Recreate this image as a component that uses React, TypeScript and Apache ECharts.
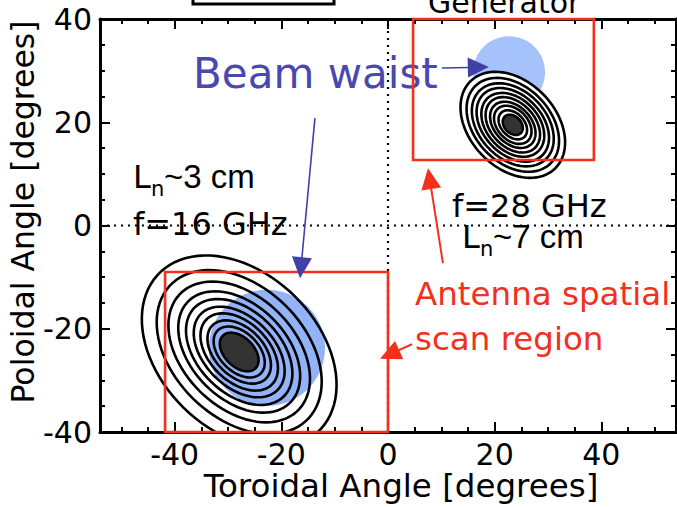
import React, { useEffect, useRef } from "react";
import * as echarts from "echarts";

// ---- axis ticks ----
const xTickLabels = [-40, -20, 0, 20, 40];
const xMinorTicks = [-50, -45, -40, -35, -30, -25, -20, -15, -10, -5, 0, 5, 10, 15, 20, 25, 30, 35, 40, 45, 50];
const xRange = [-54, 54];
const yRange = [-40, 40];

// ---- f=16 GHz contour set (degrees) ----
const lowerCenter = [-27.9, -24.5];
const lowerMajor = [4.4, 5.8, 7.2, 8.8, 10.3, 12.0, 13.7, 15.8, 18.3, 21.4];
const lowerMinor = [2.8, 3.7, 4.6, 5.6, 6.6, 7.8, 9.0, 10.6, 12.5, 15.0];
const lowerTilt = -47;

// ---- f=28 GHz contour set (degrees) ----
const upperCenter = [23.4, 19.5];
const upperMajor = [2.2, 3.2, 4.2, 5.1, 6.1, 7.0, 8.1, 9.1, 10.3, 11.6];
const upperMinor = [1.6, 2.2, 2.9, 3.5, 4.2, 4.9, 5.6, 6.4, 7.2, 8.2];
const upperTilt = -49;

// ---- beam waists: [x, y, radius] ----
const waists = [
  [22.7, 29.7, 6.75],
  [-22.7, -23.7, 10.9],
];

// ---- antenna scan regions: [x1, y1, x2, y2] ----
const scanRegions = [
  [4.7, 12.7, 38.6, 40],
  [-41.8, -9.0, 0, -40],
];

// ---- arrows: [xTail, yTail, xTip, yTip] ----
const blueArrows = [
  [-13.7, 20.8, -16.5, -10.2],
  [10.1, 30.5, 18.9, 30.7],
];
const redArrows = [
  [10.3, -7.3, 7.5, 11.1],
  [4.5, -23.0, -1.5, -25.8],
];

const FONT = '"DejaVu Sans", sans-serif';
const FONT2 = '"Liberation Sans", Arial, sans-serif';
const BLUE_TXT = "#4848ae";
const BLUE_ARROW = "#4040a8";
const RED = "#f2301c";

function buildRings(center: number[], major: number[], minor: number[], tilt: number) {
  const rows: number[][] = [];
  for (let i = major.length - 1; i >= 0; i--) {
    rows.push([center[0], center[1], major[i], minor[i], tilt, i]);
  }
  return rows;
}

function ellipseItem(whiteFill: boolean) {
  return (params: any, api: any) => {
    const cx = api.value(0), cy = api.value(1);
    const a = api.value(2), b = api.value(3);
    const th = (api.value(4) * Math.PI) / 180;
    const idx = api.value(5);
    const pts: number[][] = [];
    const n = 90;
    for (let k = 0; k < n; k++) {
      const t = (k / n) * Math.PI * 2;
      const ex = a * Math.cos(t), ey = b * Math.sin(t);
      const rx = ex * Math.cos(th) - ey * Math.sin(th);
      const ry = ex * Math.sin(th) + ey * Math.cos(th);
      pts.push(api.coord([cx + rx, cy + ry]));
    }
    return {
      type: "polygon",
      shape: { points: pts },
      style: {
        fill: idx === 0 ? "#333333" : whiteFill ? "#ffffff" : "none",
        stroke: "#000",
        lineWidth: 2.6,
      },
    };
  };
}

function arrowItem(color: string, width: number) {
  return (params: any, api: any) => {
    const p1 = api.coord([api.value(0), api.value(1)]);
    const p2 = api.coord([api.value(2), api.value(3)]);
    const dx = p2[0] - p1[0], dy = p2[1] - p1[1];
    const len = Math.sqrt(dx * dx + dy * dy);
    const ux = dx / len, uy = dy / len;
    const hl = 21, hw = 10;
    const bx = p2[0] - ux * hl, by = p2[1] - uy * hl;
    return {
      type: "group",
      children: [
        {
          type: "line",
          shape: { x1: p1[0], y1: p1[1], x2: bx + ux * 2, y2: by + uy * 2 },
          style: { stroke: color, lineWidth: width },
        },
        {
          type: "polygon",
          shape: {
            points: [
              [p2[0], p2[1]],
              [bx - uy * hw, by + ux * hw],
              [bx + uy * hw, by - ux * hw],
            ],
          },
          style: { fill: color },
        },
      ],
    };
  };
}

function txt(text: string, x: number, baseline: number, size: number, fill: string, family: string = FONT) {
  return {
    type: "text",
    x,
    y: baseline - 0.346 * size,
    style: { text, fontSize: size, fontFamily: family, fill, align: "left", verticalAlign: "middle" },
  };
}

export default function App() {
  const ref = useRef<HTMLDivElement>(null);
  useEffect(() => {
    if (!ref.current) return;
    const chart = echarts.init(ref.current, null, { renderer: "svg" });
    const axisLineStyle = { color: "#000", width: 3 };
    const tickStyle = { color: "#000", width: 2 };
    const labelStyle = { fontSize: 30, fontFamily: FONT, color: "#000" };
    const xBase = { type: "value", min: xRange[0], max: xRange[1], splitLine: { show: false } };
    const yBase = { type: "value", min: yRange[0], max: yRange[1], interval: 20, splitLine: { show: false } };
    const option: any = {
      animation: false,
      backgroundColor: "#fff",
      grid: { left: 100, right: 1, top: 19, bottom: 75, containLabel: false, outerBoundsMode: "none" },
      xAxis: [
        {
          ...xBase,
          position: "bottom",
          axisLine: { show: true, onZero: false, lineStyle: axisLineStyle },
          axisTick: { show: true, inside: true, length: 10, lineStyle: tickStyle, customValues: xTickLabels },
          axisLabel: { ...labelStyle, margin: 7, customValues: xTickLabels },
        },
        {
          ...xBase,
          position: "bottom",
          axisLine: { show: false, onZero: false },
          axisTick: { show: true, inside: true, length: 5, lineStyle: tickStyle, customValues: xMinorTicks },
          axisLabel: { show: false },
        },
        {
          ...xBase,
          position: "top",
          axisLine: { show: true, onZero: false, lineStyle: axisLineStyle },
          axisTick: { show: true, inside: true, length: 10, lineStyle: tickStyle, customValues: xTickLabels },
          axisLabel: { show: false },
        },
        {
          ...xBase,
          position: "top",
          axisLine: { show: false, onZero: false },
          axisTick: { show: true, inside: true, length: 5, lineStyle: tickStyle, customValues: xMinorTicks },
          axisLabel: { show: false },
        },
      ],
      yAxis: [
        {
          ...yBase,
          position: "left",
          axisLine: { show: true, onZero: false, lineStyle: axisLineStyle },
          axisTick: { show: true, inside: true, length: 10, lineStyle: tickStyle },
          minorTick: { show: true, splitNumber: 4, length: 5, lineStyle: tickStyle },
          axisLabel: { ...labelStyle, margin: 8 },
        },
        {
          ...yBase,
          position: "right",
          axisLine: { show: true, onZero: false, lineStyle: axisLineStyle },
          axisTick: { show: true, inside: true, length: 10, lineStyle: tickStyle },
          minorTick: { show: true, splitNumber: 4, length: 5, lineStyle: tickStyle },
          axisLabel: { show: false },
        },
      ],
      series: [
        {
          type: "custom",
          name: "Beam waist",
          z: 1,
          clip: true,
          data: waists,
          encode: { x: 0, y: 1 },
          renderItem: (params: any, api: any) => {
            const c = api.coord([api.value(0), api.value(1)]);
            const r = api.size([api.value(2), 0])[0];
            return {
              type: "circle",
              shape: { cx: c[0], cy: c[1], r },
              style: { fill: params.dataIndex === 0 ? "#a6c2fa" : "#93b3f8" },
            };
          },
        },
        {
          type: "line",
          z: 2,
          showSymbol: false,
          symbol: "none",
          data: [[0, yRange[0]], [0, yRange[1]]],
          lineStyle: { color: "#000", width: 2.2, type: [2, 5] },
        },
        {
          type: "line",
          z: 2,
          showSymbol: false,
          symbol: "none",
          data: [[xRange[0], 0], [xRange[1], 0]],
          lineStyle: { color: "#000", width: 2.2, type: [2, 5] },
        },
        {
          type: "custom",
          name: "16 GHz",
          z: 3,
          clip: true,
          data: buildRings(lowerCenter, lowerMajor, lowerMinor, lowerTilt),
          encode: { x: 0, y: 1 },
          renderItem: ellipseItem(false),
        },
        {
          type: "custom",
          name: "28 GHz",
          z: 3,
          clip: true,
          data: buildRings(upperCenter, upperMajor, upperMinor, upperTilt),
          encode: { x: 0, y: 1 },
          renderItem: ellipseItem(true),
        },
        {
          type: "custom",
          name: "Antenna spatial scan region",
          z: 4,
          data: scanRegions,
          encode: { x: 0, y: 1 },
          renderItem: (params: any, api: any) => {
            const p1 = api.coord([api.value(0), api.value(3)]);
            const p2 = api.coord([api.value(2), api.value(1)]);
            const x = Math.min(p1[0], p2[0]), y = Math.min(p1[1], p2[1]);
            return {
              type: "rect",
              shape: { x, y, width: Math.abs(p2[0] - p1[0]), height: Math.abs(p2[1] - p1[1]) },
              style: { fill: "none", stroke: RED, lineWidth: 2.6 },
            };
          },
        },
        {
          type: "custom",
          z: 5,
          data: blueArrows,
          encode: { x: 0, y: 1 },
          renderItem: arrowItem(BLUE_ARROW, 1.6),
        },
        {
          type: "custom",
          z: 5,
          data: redArrows,
          encode: { x: 0, y: 1 },
          renderItem: arrowItem(RED, 2),
        },
      ],
      graphic: [
        {
          type: "rect",
          shape: { x: 193, y: -30, width: 141, height: 34 },
          style: { fill: "none", stroke: "#000", lineWidth: 3 },
        },
        txt("Generator", 428, 13, 30, "#000"),
        txt("Beam waist", 193, 88, 42, BLUE_TXT),
        txt("L", 133, 188, 32, "#000"),
        txt("n", 151, 196, 21, "#000"),
        txt("~3 cm", 164, 188, 33, "#000", FONT2),
        txt("f=16 GHz", 133, 235, 32, "#000"),
        txt("f=28 GHz", 452, 217, 32, "#000"),
        txt("L", 462, 248, 32, "#000"),
        txt("n", 480, 256, 21, "#000"),
        txt("~7 cm", 493, 248, 33, "#000", FONT2),
        txt("Antenna spatial", 415, 305, 32.5, RED),
        txt("scan region", 415, 350, 32.5, RED),
        {
          type: "text",
          x: 401,
          y: 497 - 0.346 * 32.5,
          style: { text: "Toroidal Angle [degrees]", fontSize: 32.5, fontFamily: FONT, fill: "#000", align: "center", verticalAlign: "middle" },
        },
        {
          type: "text",
          x: 34 - 0.346 * 31.5,
          y: 212,
          rotation: Math.PI / 2,
          style: { text: "Poloidal Angle [degrees]", fontSize: 31.5, fontFamily: FONT, fill: "#000", align: "center", verticalAlign: "middle" },
        },
      ],
    };
    chart.setOption(option);
    return () => chart.dispose();
  }, []);
  return (
    <div
      ref={ref}
      style={{ position: "fixed", left: 0, top: 0, width: 677, height: 507, background: "#fff" }}
    />
  );
}
